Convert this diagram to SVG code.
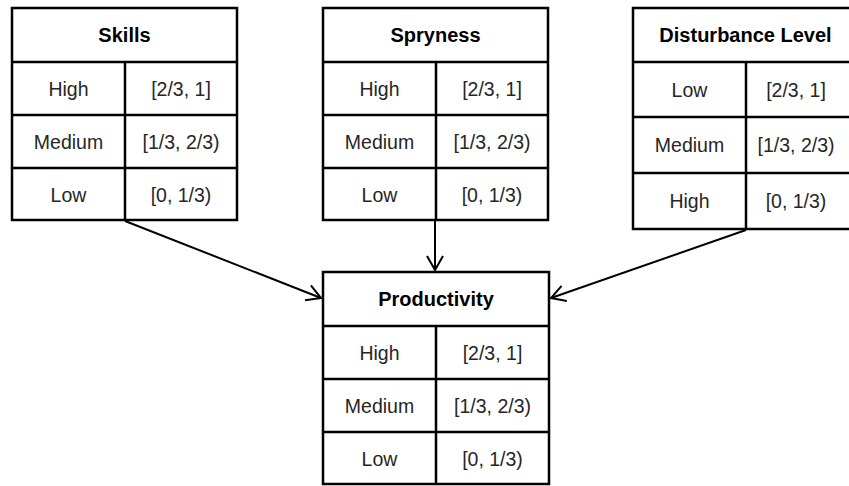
<svg xmlns="http://www.w3.org/2000/svg" width="849" height="486" viewBox="0 0 849 486">
  <style>
    .box { fill: #fff; stroke: #000; stroke-width: 2.5; }
    .grid { stroke: #000; stroke-width: 2.5; fill: none; }
    .head { font-family: "Liberation Sans", Arial, sans-serif; font-size: 20px; font-weight: bold; fill: #000; text-anchor: middle; }
    .cell { font-family: "Liberation Sans", Arial, sans-serif; font-size: 19.5px; fill: #262626; text-anchor: middle; }
    .link { stroke: #000; stroke-width: 2; fill: none; marker-end: url(#arrow); }
  </style>
  <defs>
    <!-- open V arrowhead -->
    <marker id="arrow" viewBox="0 0 16 18" refX="15" refY="9" markerWidth="16" markerHeight="18" markerUnits="userSpaceOnUse" orient="auto">
      <path d="M1,1 L15,9 L1,17" fill="none" stroke="#000" stroke-width="2"/>
    </marker>
  </defs>

  <rect width="849" height="486" fill="#fff"/>

  <g id="connectors">
    <line class="link" x1="125" y1="221" x2="321" y2="298"/>
    <line class="link" x1="435" y1="221" x2="435" y2="270"/>
    <line class="link" x1="746" y1="230" x2="551" y2="298"/>
  </g>

  <g id="skills">
    <rect class="box" x="12" y="8" width="225" height="212"/>
    <path class="grid" d="M12,62 H237 M12,115 H237 M12,168 H237 M125,62 V220"/>
    <text class="head" x="124.5" y="42">Skills</text>
    <text class="cell" x="68.5" y="95.5">High</text>
    <text class="cell" x="181" y="95.5">[2/3, 1]</text>
    <text class="cell" x="68.5" y="148.5">Medium</text>
    <text class="cell" x="181" y="148.5">[1/3, 2/3)</text>
    <text class="cell" x="68.5" y="201.5">Low</text>
    <text class="cell" x="181" y="201.5">[0, 1/3)</text>
  </g>

  <g id="spryness">
    <rect class="box" x="323" y="8" width="225" height="212"/>
    <path class="grid" d="M323,62 H548 M323,115 H548 M323,168 H548 M436,62 V220"/>
    <text class="head" x="435.5" y="42">Spryness</text>
    <text class="cell" x="379.5" y="95.5">High</text>
    <text class="cell" x="492" y="95.5">[2/3, 1]</text>
    <text class="cell" x="379.5" y="148.5">Medium</text>
    <text class="cell" x="492" y="148.5">[1/3, 2/3)</text>
    <text class="cell" x="379.5" y="201.5">Low</text>
    <text class="cell" x="492" y="201.5">[0, 1/3)</text>
  </g>

  <g id="disturbance-level">
    <rect class="box" x="633" y="8" width="225" height="221"/>
    <path class="grid" d="M633,62 H858 M633,117 H858 M633,173 H858 M746,62 V229"/>
    <text class="head" x="745.5" y="42">Disturbance Level</text>
    <text class="cell" x="689.5" y="96.5">Low</text>
    <text class="cell" x="796" y="96.5">[2/3, 1]</text>
    <text class="cell" x="689.5" y="152">Medium</text>
    <text class="cell" x="796" y="152">[1/3, 2/3)</text>
    <text class="cell" x="689.5" y="208">High</text>
    <text class="cell" x="796" y="208">[0, 1/3)</text>
  </g>

  <g id="productivity">
    <rect class="box" x="323" y="272" width="226" height="212"/>
    <path class="grid" d="M323,326 H549 M323,379 H549 M323,432 H549 M436,326 V484"/>
    <text class="head" x="436" y="306">Productivity</text>
    <text class="cell" x="379.5" y="359.5">High</text>
    <text class="cell" x="492.5" y="359.5">[2/3, 1]</text>
    <text class="cell" x="379.5" y="412.5">Medium</text>
    <text class="cell" x="492.5" y="412.5">[1/3, 2/3)</text>
    <text class="cell" x="379.5" y="465.5">Low</text>
    <text class="cell" x="492.5" y="465.5">[0, 1/3)</text>
  </g>
</svg>
